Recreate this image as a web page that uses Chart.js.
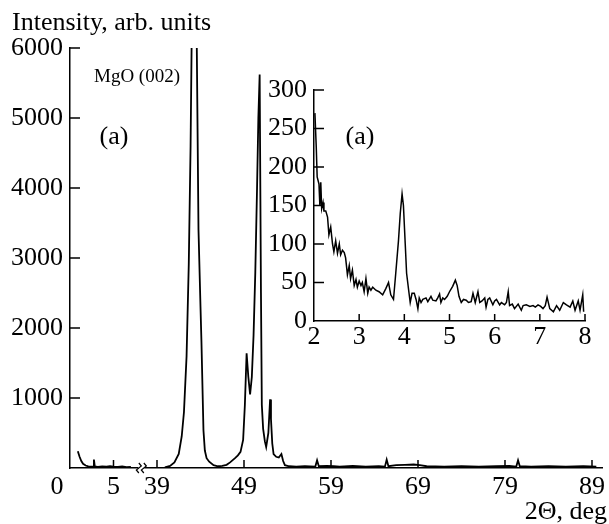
<!DOCTYPE html>
<html>
<head>
<meta charset="utf-8">
<script src="https://cdn.jsdelivr.net/npm/chart.js@4/dist/chart.umd.min.js"></script>
<style>
  html, body { margin: 0; padding: 0; background: #fff; }
  #wrap { position: relative; width: 609px; height: 524px; }
  #main { position: absolute; left: 0; top: 0; }
  #inset { position: absolute; left: 250px; top: 70px; }
</style>
</head>
<body>
<div id="wrap">
  <canvas id="main" width="609" height="524"></canvas>
  <canvas id="inset" width="350" height="290"></canvas>
</div>
<script>
// main pattern, low-angle part (left of the axis break), 2Theta in deg
var lowTheta = [0.9, 1.1, 1.3, 1.5, 1.8, 2.1, 2.4, 2.65, 2.75, 2.85, 3.2, 3.7, 4.2, 4.6, 5.0, 5.5, 6.0, 6.5, 7.0];
var lowCounts = [240, 160, 100, 60, 35, 22, 18, 20, 120, 22, 15, 24, 18, 28, 20, 15, 22, 12, 15];

// main pattern, high-angle part (right of the break)
var highTheta = [39.9, 40.5, 41.0, 41.5, 41.84, 42.1, 42.4, 42.65, 42.86, 43.1, 43.3, 43.5, 43.77, 44.0, 44.11, 44.34, 44.5, 44.7, 45.0, 45.5, 46.0, 46.5, 47.0, 47.4, 47.97, 48.3, 48.6, 48.9, 49.1, 49.3, 49.5, 49.7, 49.9, 50.1, 50.3, 50.5, 50.65, 50.8, 50.95, 51.05, 51.2, 51.4, 51.55, 51.8, 52.0, 52.1, 52.25, 52.4, 52.7, 53.0, 53.3, 53.5, 53.7, 54.2, 55.0, 56.0, 57.2, 57.4, 57.6, 58.5, 59.3, 60.0, 61.5, 63.0, 64.5, 65.2, 65.4, 65.6, 66.5, 67.5, 68.5, 69.2, 70.0, 72.0, 74.0, 76.0, 78.0, 79.5, 80.3, 80.5, 80.7, 82.0, 84.0, 86.0, 88.0, 89.5];
var highCounts = [10, 30, 80, 200, 450, 800, 1600, 2900, 4600, 7500, 9000, 7000, 3400, 2300, 1800, 540, 250, 140, 90, 40, 25, 30, 45, 80, 140, 180, 230, 400, 900, 1640, 1300, 1050, 1300, 1900, 2800, 4000, 5000, 5620, 2500, 900, 560, 380, 300, 500, 980, 700, 350, 200, 160, 150, 200, 100, 40, 25, 20, 25, 20, 110, 25, 30, 25, 20, 30, 20, 25, 20, 120, 25, 40, 45, 50, 40, 25, 20, 25, 20, 25, 30, 20, 110, 25, 20, 25, 20, 25, 20];

// break: 2Theta above it is shifted left by this many degrees
var breakShift = 29;
var mainTickPos = [0, 5, 10, 20, 30, 40, 50, 60];
var mainTickLabels = ['0    ', '5', '39', '49', '59', '69', '79', '89'];
var mainYTicks = [1000, 2000, 3000, 4000, 5000, 6000];

// inset, small angle scan
var insetTheta = [2.02, 2.05, 2.07, 2.11, 2.13, 2.15, 2.17, 2.20, 2.22, 2.26, 2.30, 2.33, 2.37, 2.41, 2.44, 2.48, 2.52, 2.56, 2.59, 2.63, 2.67, 2.70, 2.74, 2.78, 2.81, 2.85, 2.89, 2.93, 2.96, 3.00, 3.04, 3.07, 3.11, 3.15, 3.19, 3.22, 3.26, 3.30, 3.37, 3.44, 3.52, 3.59, 3.65, 3.70, 3.76, 3.81, 3.87, 3.91, 3.95, 3.98, 4.02, 4.05, 4.10, 4.13, 4.17, 4.22, 4.26, 4.30, 4.33, 4.37, 4.41, 4.48, 4.52, 4.59, 4.63, 4.70, 4.74, 4.78, 4.81, 4.85, 4.89, 4.95, 5.00, 5.07, 5.13, 5.17, 5.21, 5.26, 5.31, 5.37, 5.42, 5.48, 5.52, 5.57, 5.63, 5.67, 5.72, 5.78, 5.81, 5.85, 5.89, 5.96, 6.00, 6.04, 6.11, 6.15, 6.22, 6.26, 6.30, 6.33, 6.39, 6.44, 6.52, 6.59, 6.63, 6.70, 6.78, 6.85, 6.90, 6.96, 7.02, 7.07, 7.12, 7.16, 7.22, 7.30, 7.37, 7.44, 7.52, 7.59, 7.67, 7.73, 7.78, 7.85, 7.89, 7.95, 7.97];
var insetCounts = [270, 226, 187, 178, 150, 180, 146, 154, 143, 143, 135, 112, 122, 100, 90, 104, 88, 100, 86, 92, 89, 82, 60, 72, 55, 66, 46, 54, 44, 52, 46, 50, 38, 55, 36, 44, 40, 44, 40, 38, 34, 42, 50, 34, 28, 62, 104, 140, 165, 150, 100, 62, 38, 24, 36, 36, 28, 16, 30, 24, 28, 30, 25, 32, 27, 26, 30, 35, 24, 30, 28, 32, 38, 45, 53, 46, 32, 24, 28, 27, 24, 25, 36, 24, 38, 24, 26, 30, 18, 28, 30, 21, 26, 28, 21, 24, 21, 24, 38, 20, 22, 16, 22, 14, 20, 21, 19, 20, 18, 21, 19, 16, 20, 31, 16, 12, 20, 14, 24, 21, 18, 26, 14, 26, 14, 34, 12];

Chart.defaults.font.family = "'Liberation Serif', 'Times New Roman', serif";
Chart.defaults.font.size = 26;
Chart.defaults.color = '#000';
Chart.defaults.animation = false;

function pts(xs, ys, shift) {
	return xs.map(function(x, i) { return { x: x - shift, y: ys[i] }; });
}

// inward tick marks, drawn from the scales
var tickMarks = {
	id: 'tickMarks',
	afterDatasetsDraw: function(chart, args, opts) {
		var c = chart.ctx, a = chart.chartArea;
		var xs = chart.scales.x, ys = chart.scales.y;
		c.save();
		c.strokeStyle = '#000';
		c.lineWidth = 1.5;
		c.beginPath();
		opts.xTicks.forEach(function(v) {
			var px = xs.getPixelForValue(v);
			c.moveTo(px, a.bottom);
			c.lineTo(px, a.bottom - opts.xLen);
		});
		opts.yTicks.forEach(function(v) {
			var py = ys.getPixelForValue(v);
			c.moveTo(a.left, py);
			c.lineTo(a.left + opts.yLen, py);
		});
		c.stroke();
		c.restore();
	}
};

var mainTexts = {
	id: 'mainTexts',
	afterDraw: function(chart) {
		var c = chart.ctx, a = chart.chartArea, xs = chart.scales.x;
		c.save();
		c.fillStyle = '#000';
		c.font = "26px 'Liberation Serif'";
		c.textBaseline = 'alphabetic';
		c.textAlign = 'left';
		c.fillText('Intensity, arb. units', 12, 30);
		c.textAlign = 'right';
		c.fillText('2\u0398, deg', 607, 519);
		c.textAlign = 'center';
		c.textBaseline = 'middle';
		c.fillText('(a)', 114, 137);
		c.fillText('(a)', 360, 137);
		c.font = "19px 'Liberation Serif'";
		c.fillText('MgO (002)', 137, 77);
		// axis break mark
		var bx = xs.getPixelForValue(8.2);
		c.strokeStyle = '#000';
		c.lineWidth = 1.2;
		c.fillStyle = '#fff';
		c.fillRect(bx - 3, a.bottom - 2, 6, 4);
		[-2.5, 2.5].forEach(function(d) {
			c.beginPath();
			c.moveTo(bx + d, a.bottom + 5);
			c.lineTo(bx + d - 2.5, a.bottom + 2);
			c.lineTo(bx + d + 2.5, a.bottom - 2);
			c.lineTo(bx + d, a.bottom - 5);
			c.stroke();
		});
		c.restore();
	}
};

new Chart(document.getElementById('main').getContext('2d'), {
	type: 'line',
	data: {
		datasets: [{
			data: pts(lowTheta, lowCounts, 0),
			borderColor: '#000',
			borderWidth: 1.8,
			pointRadius: 0,
			tension: 0
		}, {
			data: pts(highTheta, highCounts, breakShift),
			borderColor: '#000',
			borderWidth: 1.8,
			pointRadius: 0,
			tension: 0
		}]
	},
	options: {
		responsive: false,
		layout: { padding: { top: 48, right: 7, left: 0, bottom: 0 } },
		plugins: {
			legend: { display: false },
			tooltip: { enabled: false },
			tickMarks: { xTicks: mainTickPos.slice(1), yTicks: mainYTicks, xLen: 8, yLen: 10 }
		},
		scales: {
			x: {
				type: 'linear',
				min: 0,
				max: 61.15,
				grid: { display: false, drawTicks: false },
				border: { display: true, color: '#000', width: 1.5 },
				afterBuildTicks: function(s) { s.ticks = mainTickPos.map(function(v) { return { value: v }; }); },
				afterFit: function(s) { s.height = 56; s.paddingLeft = 0; s.paddingRight = 0; },
				ticks: {
					autoSkip: false,
					maxRotation: 0,
					padding: 4,
					callback: function(v) { return mainTickLabels[mainTickPos.indexOf(v)]; }
				}
			},
			y: {
				min: 0,
				max: 6000,
				grid: { display: false, drawTicks: false },
				border: { display: true, color: '#000', width: 1.5 },
				afterFit: function(s) { s.width = 70; s.paddingTop = 0; s.paddingBottom = 0; },
				ticks: {
					stepSize: 1000,
					padding: 7,
					callback: function(v) { return v === 0 ? '' : v; }
				}
			}
		}
	},
	plugins: [tickMarks, mainTexts]
});

new Chart(document.getElementById('inset').getContext('2d'), {
	type: 'line',
	data: {
		datasets: [{
			data: pts(insetTheta, insetCounts, 0),
			borderColor: '#000',
			borderWidth: 1.5,
			pointRadius: 0,
			tension: 0
		}]
	},
	options: {
		responsive: false,
		layout: { padding: { top: 20, right: 15, left: 0, bottom: 0 } },
		plugins: {
			legend: { display: false },
			tooltip: { enabled: false },
			tickMarks: { xTicks: [3, 4, 5, 6, 7, 8], yTicks: [50, 100, 150, 200, 250, 300], xLen: 7, yLen: 10 }
		},
		scales: {
			x: {
				type: 'linear',
				min: 2,
				max: 8,
				grid: { display: false, drawTicks: false },
				border: { display: true, color: '#000', width: 1.5 },
				afterFit: function(s) { s.height = 39; s.paddingLeft = 0; s.paddingRight = 0; },
				ticks: { stepSize: 1, autoSkip: false, maxRotation: 0, padding: 1 }
			},
			y: {
				min: 0,
				max: 300,
				grid: { display: false, drawTicks: false },
				border: { display: true, color: '#000', width: 1.5 },
				afterFit: function(s) { s.width = 64; s.paddingTop = 0; s.paddingBottom = 0; },
				ticks: { stepSize: 50, padding: 7 }
			}
		}
	},
	plugins: [tickMarks]
});
</script>
</body>
</html>
